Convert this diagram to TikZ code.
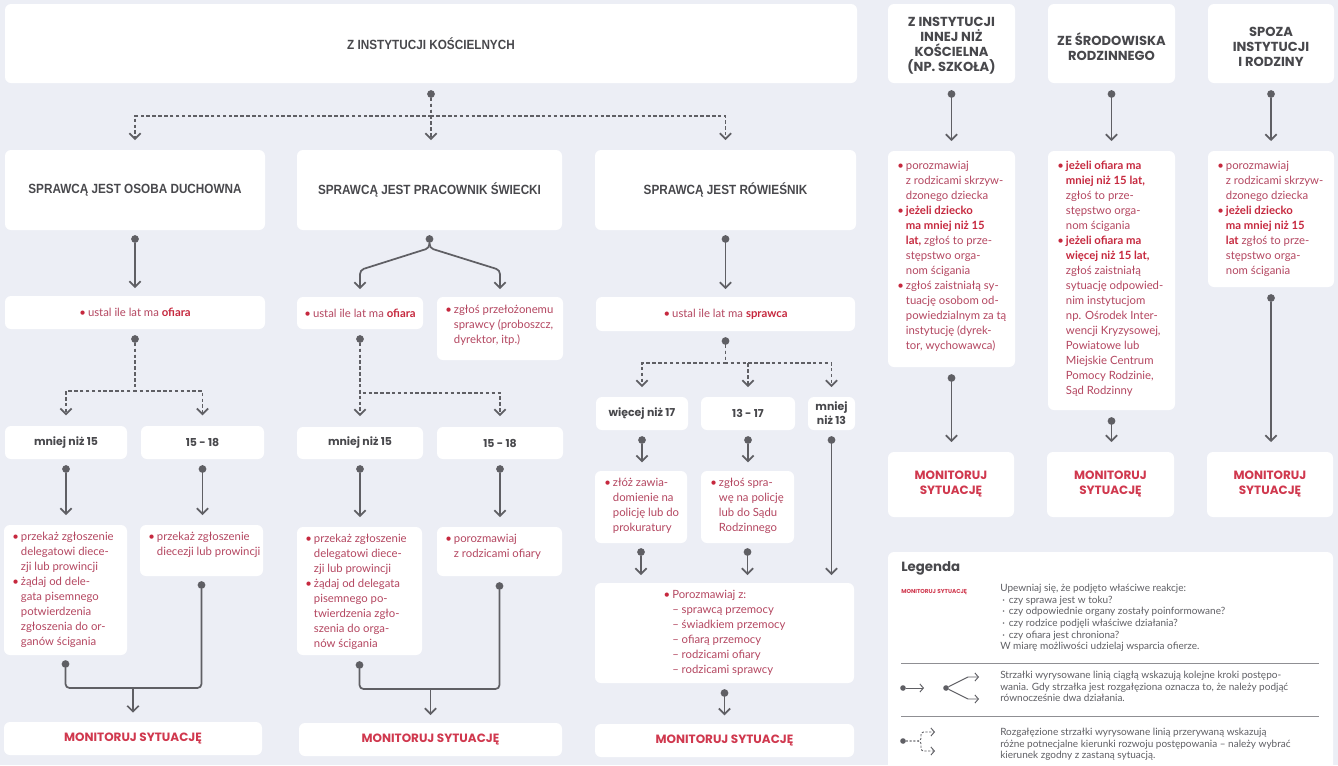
\documentclass[tikz,border=0pt]{standalone}
\usepackage{fontspec}
\setmainfont{Lato}
\newfontfamily\popf{Poppins}
\newfontfamily\condf{Liberation Sans}[FakeStretch=0.88]
\usetikzlibrary{arrows.meta,calc}
\definecolor{bg}{RGB}{236,238,245}
\definecolor{lgray}{RGB}{95,95,100}
\definecolor{hgray}{RGB}{72,72,76}
\definecolor{bpink}{RGB}{180,70,96}
\definecolor{bred}{RGB}{198,40,62}
\definecolor{mred}{RGB}{208,56,78}
\definecolor{lgtext}{RGB}{95,95,100}
\newcommand\mkbox[5]{\node[box,minimum width={(#4-#2)*0.75pt},minimum height={(#5-#3)*0.75pt}] (#1) at ({(#2+#4)/2},{(#3+#5)/2}) {};}
\newcommand\bul{\makebox[6.5pt][l]{\textcolor{bred}{\textbullet}}}
\newcommand\inds{\hspace*{6.5pt}}
\newcommand\rbo[1]{\textcolor{bred}{\bfseries #1}}
\newcommand\lbul{\hspace*{1.5pt}\makebox[5pt][l]{·}}
\tikzset{
 box/.style={fill=white, rounded corners=4.5pt, inner sep=0pt, outer sep=0pt, draw=none},
 dotn/.style={circle, fill=lgray, inner sep=0pt, minimum size=5.8pt, outer sep=0pt},
 conn/.style={draw=lgray, line width=1.3pt, -{Straight Barb[length=4.2pt,width=8.5pt]}, shorten >=6pt},
 dconn/.style={conn, dash pattern=on 2.6pt off 1.8pt},
 plain/.style={draw=lgray, line width=1.3pt},
 lconn/.style={draw=lgray, line width=0.7pt, -{Straight Barb[length=2.6pt,width=6pt]}},
 ldconn/.style={lconn, dash pattern=on 1.6pt off 1.2pt},
 hd/.style={font=\condf\bfseries\fontsize{10}{12}\selectfont, text=hgray, inner sep=0pt, align=center},
 hv/.style={font=\popf\bfseries\fontsize{9.8}{11.25}\selectfont, text=hgray, inner sep=0pt, align=center},
 lab/.style={font=\popf\bfseries\fontsize{8.2}{10.5}\selectfont, text=hgray, inner sep=0pt, align=center},
 mon/.style={font=\popf\bfseries\fontsize{9}{11.25}\selectfont, text=mred, inner sep=0pt, align=center},
 body/.style={font=\fontsize{8.5}{11.25}\selectfont, text=bpink, inner sep=0pt, align=left},
 legt/.style={font=\fontsize{7.5}{8.7}\selectfont, text=lgtext, inner sep=0pt, align=left},
}
\begin{document}
\begin{tikzpicture}[x=0.75pt,y=-0.75pt]
\useasboundingbox (0,0) rectangle (1338,765);
\clip (0,0) rectangle (1338,765);
\fill[bg] (0,0) rectangle (1338,765);
% boxes
\mkbox{top}{5}{4}{857}{83}
\mkbox{h1}{888}{4}{1015}{83}
\mkbox{h2}{1048}{4}{1175}{83}
\mkbox{h3}{1208}{4}{1334}{83}
\mkbox{s1}{5}{150}{265}{230}
\mkbox{s2}{297}{150}{562}{230}
\mkbox{s3}{595}{150}{856}{230}
\mkbox{u1}{5}{296}{265}{329}
\mkbox{u2}{297}{297}{423}{329}
\mkbox{z2}{437}{297}{563}{360}
\mkbox{u3}{596}{297}{855}{331}
\mkbox{m1}{5}{426}{127}{459}
\mkbox{m2}{141}{426}{264}{459}
\mkbox{m3}{297}{427}{423}{459}
\mkbox{m4}{437}{427}{563}{459}
\mkbox{w1}{596}{397}{688}{430}
\mkbox{w2}{701}{397}{795}{430}
\mkbox{w3}{808}{397}{855}{430}
\mkbox{a1}{4}{525}{127}{655}
\mkbox{b1}{140}{525}{263}{576}
\mkbox{a2}{297}{527}{422}{655}
\mkbox{b2}{437}{527}{562}{576}
\mkbox{c1}{595}{471}{687}{543}
\mkbox{c2}{701}{471}{794}{543}
\mkbox{pz}{595}{583}{854}{683}
\mkbox{mo1}{4}{722}{262}{755}
\mkbox{mo2}{299}{723}{562}{756}
\mkbox{mo3}{595}{724}{854}{757}
\mkbox{r1}{888}{151}{1015}{367}
\mkbox{r2}{1048}{151}{1175}{410}
\mkbox{r3}{1208}{151}{1334}{287}
\mkbox{rm1}{888}{452}{1014}{517}
\mkbox{rm2}{1047}{452}{1174}{517}
\mkbox{rm3}{1207}{452}{1333}{517}
\mkbox{leg}{888}{552}{1333}{790}
% headers
\node[hd] (ttop) at (top) {Z INSTYTUCJI KOŚCIELNYCH};
\node[hd] (ts1) at (s1) {SPRAWCĄ JEST OSOBA DUCHOWNA};
\node[hd] (ts2) at (s2) {SPRAWCĄ JEST PRACOWNIK ŚWIECKI};
\node[hd] (ts3) at (s3) {SPRAWCĄ JEST RÓWIEŚNIK};
\node[hv] (th1) at ($(h1)+(0,2)$) {Z INSTYTUCJI\\INNEJ NIŻ\\KOŚCIELNA\\(NP. SZKOŁA)};
\node[hv] (th2) at ($(h2)+(0,3)$) {ZE ŚRODOWISKA\\RODZINNEGO};
\node[hv] (th3) at ($(h3)+(0,3)$) {SPOZA\\INSTYTUCJI\\I RODZINY};
% column 1
\node[body] (tu1) at (u1) {\bul ustal ile lat ma \rbo{ofiara}};
\node[lab] (tm1) at (m1) {mniej niż 15};
\node[lab] (tm2) at (m2) {15 - 18};
\node[body, anchor=north west] (ta1) at ($(a1.north west)+(8,7)$) {\bul przekaż zgłoszenie\\\inds delegatowi diece-\\\inds zji lub prowincji\\\bul żądaj od dele-\\\inds gata pisemnego\\\inds potwierdzenia\\\inds zgłoszenia do or-\\\inds ganów ścigania};
\node[body, anchor=north west] (tb1) at ($(b1.north west)+(8,7)$) {\bul przekaż zgłoszenie\\\inds diecezji lub prowincji};
\node[mon] (tmo1) at (mo1) {MONITORUJ SYTUACJĘ};
% column 2
\node[body] (tu2) at (u2) {\bul ustal ile lat ma \rbo{ofiara}};
\node[body, anchor=north west] (tz2) at ($(z2.north west)+(8,8)$) {\bul zgłoś przełożonemu\\\inds sprawcy (proboszcz,\\\inds dyrektor, itp.)};
\node[lab] (tm3) at (m3) {mniej niż 15};
\node[lab] (tm4) at (m4) {15 - 18};
\node[body, anchor=north west] (ta2) at ($(a2.north west)+(8,7)$) {\bul przekaż zgłoszenie\\\inds delegatowi diece-\\\inds zji lub prowincji\\\bul żądaj od delegata\\\inds pisemnego po-\\\inds twierdzenia zgło-\\\inds szenia do orga-\\\inds nów ścigania};
\node[body, anchor=north west] (tb2) at ($(b2.north west)+(8,7)$) {\bul porozmawiaj\\\inds z rodzicami ofiary};
\node[mon] (tmo2) at (mo2) {MONITORUJ SYTUACJĘ};
% column 3
\node[body] (tu3) at (u3) {\bul ustal ile lat ma \rbo{sprawca}};
\node[lab] (tw1) at (w1) {więcej niż 17};
\node[lab] (tw2) at (w2) {13 - 17};
\node[lab] (tw3) at (w3) {mniej\\niż 13};
\node[body, anchor=north west] (tc1) at ($(c1.north west)+(9,7)$) {\bul złóż zawia-\\\inds domienie na\\\inds policję lub do\\\inds prokuratury};
\node[body, anchor=north west] (tc2) at ($(c2.north west)+(9,7)$) {\bul zgłoś spra-\\\inds wę na policję\\\inds lub do Sądu\\\inds Rodzinnego};
\node[body] (tpz) at (pz) {\bul Porozmawiaj z:\\\inds – sprawcą przemocy\\\inds – świadkiem przemocy\\\inds – ofiarą przemocy\\\inds – rodzicami ofiary\\\inds – rodzicami sprawcy};
\node[mon] (tmo3) at (mo3) {MONITORUJ SYTUACJĘ};
% right columns
\node[body, anchor=north west] (tr1) at ($(r1.north west)+(9,10)$) {\bul porozmawiaj\\\inds z rodzicami skrzyw-\\\inds dzonego dziecka\\\bul \rbo{jeżeli dziecko}\\\inds \rbo{ma mniej niż 15}\\\inds \rbo{lat,} zgłoś to prze-\\\inds stępstwo orga-\\\inds nom ścigania\\\bul zgłoś zaistniałą sy-\\\inds tuację osobom od-\\\inds powiedzialnym za tą\\\inds instytucję (dyrek-\\\inds tor, wychowawca)};
\node[body, anchor=north west] (tr2) at ($(r2.north west)+(9,10)$) {\bul \rbo{jeżeli ofiara ma}\\\inds \rbo{mniej niż 15 lat,}\\\inds zgłoś to prze-\\\inds stępstwo orga-\\\inds nom ścigania\\\bul \rbo{jeżeli ofiara ma}\\\inds \rbo{więcej niż 15 lat,}\\\inds zgłoś zaistniałą\\\inds sytuację odpowied-\\\inds nim instytucjom\\\inds np. Ośrodek Inter-\\\inds wencji Kryzysowej,\\\inds Powiatowe lub\\\inds Miejskie Centrum\\\inds Pomocy Rodzinie,\\\inds Sąd Rodzinny};
\node[body, anchor=north west] (tr3) at ($(r3.north west)+(9,10)$) {\bul porozmawiaj\\\inds z rodzicami skrzyw-\\\inds dzonego dziecka\\\bul \rbo{jeżeli dziecko}\\\inds \rbo{ma mniej niż 15}\\\inds \rbo{lat} zgłoś to prze-\\\inds stępstwo orga-\\\inds nom ścigania};
\node[mon] (trm1) at (rm1) {MONITORUJ\\SYTUACJĘ};
\node[mon] (trm2) at (rm2) {MONITORUJ\\SYTUACJĘ};
\node[mon] (trm3) at (rm3) {MONITORUJ\\SYTUACJĘ};
% connectors: top
\node[dotn] (dtop) at ($(top.south)+(0,11)$) {};
\coordinate (jtop) at ($(dtop)+(0,22)$);
\draw[dconn, shorten >=7.5pt] (dtop) -- (jtop) -| (s1.north);
\draw[dconn, shorten >=7.5pt] (dtop) -- (jtop) -| (s3.north);
\draw[dconn, shorten >=7.5pt] (dtop) -- (dtop |- s2.north);
% row 2
\node[dotn] (ds1) at ($(s1.south)+(0,9)$) {};
\draw[conn] (ds1) -- (ds1 |- u1.north);
\node[dotn] (ds2) at ($(s2.south)+(0,9)$) {};
\draw[conn, rounded corners=3pt] (ds2) -- ++(0,9) -- ($(u2.north)+(0,-27)$) -- (u2.north);
\draw[conn, rounded corners=3pt] (ds2) -- ++(0,9) -- ($(z2.north)+(0,-27)$) -- (z2.north);
\node[dotn] (ds3) at ($(s3.south)+(0,9)$) {};
\draw[conn] (ds3) -- (ds3 |- u3.north);
% column 1
\node[dotn] (du1) at ($(u1.south)+(0,10)$) {};
\coordinate (ju1) at ($(du1)+(0,52)$);
\draw[dconn, shorten >=8pt] (du1) -- (ju1) -| (m1.north);
\draw[dconn, shorten >=8pt] (du1) -- (ju1) -| (m2.north);
\node[dotn] (dm1) at ($(m1.south)+(0,10)$) {};
\draw[conn, shorten >=7.5pt] (dm1) -- (dm1 |- a1.north);
\node[dotn] (dm2) at ($(m2.south)+(0,10)$) {};
\draw[conn, shorten >=7.5pt] (dm2) -- (dm2 |- b1.north);
\node[dotn] (da1) at ($(a1.south)+(0,9)$) {};
\node[dotn] (db1) at ($(b1.south)+(0,9)$) {};
\coordinate (jm1) at ($(mo1.north)+(0,-34)$);
\draw[plain, rounded corners=3pt] (da1) -- (da1 |- jm1) -- (db1 |- jm1) -- (db1);
\draw[conn, shorten >=7pt] (jm1) -- (mo1.north);
% column 2
\node[dotn] (du2) at ($(u2.south)+(0,10)$) {};
\coordinate (ju2) at ($(du2)+(0,54)$);
\draw[dconn, shorten >=8.25pt] (du2) -- (du2 |- m3.north);
\draw[dconn, shorten >=8.25pt] (du2) -- (ju2) -| (m4.north);
\node[dotn] (dm3) at ($(m3.south)+(0,10)$) {};
\draw[conn, shorten >=7.5pt] (dm3) -- (dm3 |- a2.north);
\node[dotn] (dm4) at ($(m4.south)+(0,10)$) {};
\draw[conn, shorten >=7.5pt] (dm4) -- (dm4 |- b2.north);
\node[dotn] (da2) at ($(a2.south)+(0,10)$) {};
\node[dotn] (db2) at ($(b2.south)+(0,10)$) {};
\coordinate (jm2) at ($(mo2.north)+(0,-34)$);
\draw[plain, rounded corners=3pt] (da2) -- (da2 |- jm2) -- (db2 |- jm2) -- (db2);
\draw[conn, shorten >=6pt] (jm2) -- (mo2.north);
% column 3
\node[dotn] (du3) at ($(u3.south)+(0,10)$) {};
\coordinate (ju3) at ($(du3)+(0,22)$);
\draw[dconn, shorten >=7.5pt] (du3) -- (ju3) -| (w1.north);
\draw[dconn, shorten >=7.5pt] (du3) -- (ju3) -| (w2.north);
\draw[dconn, shorten >=7.5pt] (du3) -- (ju3) -| (w3.north);
\node[dotn] (dw1) at ($(w1.south)+(0,10)$) {};
\draw[conn, shorten >=6.5pt] (dw1) -- (dw1 |- c1.north);
\node[dotn] (dw2) at ($(w2.south)+(0,10)$) {};
\draw[conn, shorten >=6.5pt] (dw2) -- (dw2 |- c2.north);
\node[dotn] (dw3) at ($(w3.south)+(0,10)$) {};
\draw[conn, shorten >=6pt] (dw3) -- (dw3 |- pz.north);
\node[dotn] (dc1) at ($(c1.south)+(0,9)$) {};
\draw[conn, shorten >=6pt] (dc1) -- (dc1 |- pz.north);
\node[dotn] (dc2) at ($(c2.south)+(0,9)$) {};
\draw[conn, shorten >=6pt] (dc2) -- (dc2 |- pz.north);
\node[dotn] (dpz) at ($(pz.south)+(0,10)$) {};
\draw[conn, shorten >=6.5pt] (dpz) -- (dpz |- mo3.north);
% right columns
\node[dotn] (dh1) at ($(h1.south)+(0,11)$) {};
\draw[conn, shorten >=7.5pt] (dh1) -- (dh1 |- r1.north);
\node[dotn] (dh2) at ($(h2.south)+(0,11)$) {};
\draw[conn, shorten >=7.5pt] (dh2) -- (dh2 |- r2.north);
\node[dotn] (dh3) at ($(h3.south)+(0,11)$) {};
\draw[conn, shorten >=7.5pt] (dh3) -- (dh3 |- r3.north);
\node[dotn] (dr1) at ($(r1.south)+(0,11)$) {};
\draw[conn, shorten >=7.5pt] (dr1) -- (dr1 |- rm1.north);
\node[dotn] (dr2) at ($(r2.south)+(0,11)$) {};
\draw[conn, shorten >=7.5pt] (dr2) -- (dr2 |- rm2.north);
\node[dotn] (dr3) at ($(r3.south)+(0,11)$) {};
\draw[conn, shorten >=7.5pt] (dr3) -- (dr3 |- rm3.north);
% legend
\node[font=\popf\bfseries\fontsize{10}{12}\selectfont, text=hgray, anchor=west, inner sep=0pt] (lgt) at (901,568) {Legenda};
\node[mon, font=\popf\bfseries\fontsize{4.3}{5}\selectfont, anchor=west] (lgm) at (901,592) {MONITORUJ SYTUACJĘ};
\node[legt, anchor=north west] (lg1) at (1000,584) {Upewniaj się, że podjęto właściwe reakcje:\\\lbul czy sprawa jest w toku?\\\lbul czy odpowiednie organy zostały poinformowane?\\\lbul czy rodzice podjęli właściwe działania?\\\lbul czy ofiara jest chroniona?\\W miarę możliwości udzielaj wsparcia ofierze.};
\coordinate (sepa) at (901,663); \coordinate (sepb) at (1319,663);
\coordinate (sepc) at (901,716); \coordinate (sepd) at (1319,716);
\draw[lgray!70, line width=0.6pt] (sepa) -- (sepb);
\draw[lgray!70, line width=0.6pt] (sepc) -- (sepd);
\node[legt, anchor=north west] (lg2) at (1000,671) {Strzałki wyrysowane linią ciągłą wskazują kolejne kroki postępo-\\wania. Gdy strzałka jest rozgałęziona oznacza to, że należy podjąć\\równocześnie dwa działania.};
\node[legt, anchor=north west] (lg3) at (1000,728) {Rozgałęzione strzałki wyrysowane linią przerywaną wskazują\\różne potnecjalne kierunki rozwoju postępowania – należy wybrać\\kierunek zgodny z zastaną sytuacją.};
\node[dotn, minimum size=4.2pt] (li1) at (903,688) {};
\coordinate (li1e) at (924,688);
\draw[lconn] (li1) -- (li1e);
\node[dotn, minimum size=4.2pt] (li2) at (946,688) {};
\coordinate (li2a) at (979,677); \coordinate (li2b) at (979,699);
\draw[lconn] (li2) -- ($(li2a)+(-11,0)$) -- (li2a);
\draw[lconn] (li2) -- ($(li2b)+(-11,0)$) -- (li2b);
\node[dotn, minimum size=4.2pt] (li3) at (903,741) {};
\coordinate (li3a) at (935,732); \coordinate (li3b) at (935,751);
\draw[ldconn, rounded corners=2pt] (li3) -- ($(li3)+(18,0)$) |- (li3a);
\draw[ldconn, rounded corners=2pt] (li3) -- ($(li3)+(18,0)$) |- (li3b);
\end{tikzpicture}
\end{document}
